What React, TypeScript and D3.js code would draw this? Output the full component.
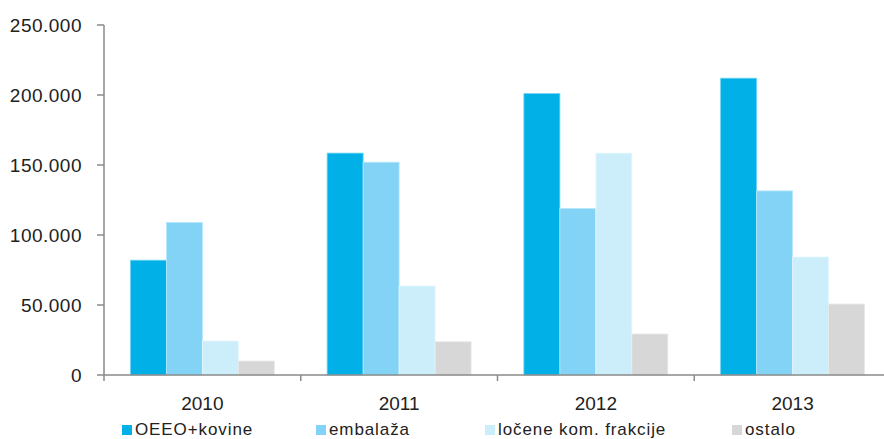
import React from "react";
import * as d3 from "d3";

const years = ["2010", "2011", "2012", "2013"];
const seriesNames = ["OEEO+kovine", "embalaža", "ločene kom. frakcije", "ostalo"];
const oeeo = [82000, 158500, 201000, 212000];
const embalaza = [109000, 152000, 119000, 131500];
const locene = [24300, 63600, 158500, 84300];
const ostalo = [10000, 23800, 29300, 50700];
const yTicks = [0, 50000, 100000, 150000, 200000, 250000];

const seriesValues = [oeeo, embalaza, locene, ostalo];
const colors = ["#00B0E6", "#82D3F6", "#CCEEFA", "#D7D7D7"];
const strokes = ["#6FD4F3", "#B8E8FB", "#E6F7FD", "#EAEAEA"];

const W = 884;
const H = 439;
const left = 104;
const top = 25;
const bottom = 375;
const right = 891;
const legendX = [122, 316, 485, 732];

const FONT = "'Liberation Sans', Arial, sans-serif";
const AXIS = "#8A8A8A";

export default function App() {
  const x = d3.scaleBand<string>().domain(years).range([left, right]).paddingInner(0).paddingOuter(0);
  const xs = d3
    .scaleBand<string>()
    .domain(seriesNames)
    .range([0, x.bandwidth()])
    .paddingInner(0)
    .paddingOuter(0.733);
  const y = d3.scaleLinear().domain([0, 250000]).range([bottom, top]);
  const fmt = (v: number) => (v === 0 ? "0" : d3.format(",")(v).replace(/,/g, "."));

  return (
    <svg
      width={W}
      height={H}
      style={{ position: "absolute", left: 0, top: 0, background: "#fff" }}
      fontFamily={FONT}
    >
      {seriesNames.map((s, si) =>
        years.map((yr, i) => {
          const v = seriesValues[si][i];
          const bx = (x(yr) as number) + (xs(s) as number);
          return (
            <rect
              key={s + yr}
              x={bx}
              y={y(v)}
              width={xs.bandwidth()}
              height={bottom - y(v)}
              fill={colors[si]}
              stroke={strokes[si]}
              strokeWidth={0.8}
            />
          );
        })
      )}
      {/* y axis */}
      <line x1={left} x2={left} y1={top} y2={bottom + 6} stroke={AXIS} strokeWidth={1.5} />
      {yTicks.map((t) => (
        <g key={t}>
          <line x1={left - 7} x2={left} y1={y(t)} y2={y(t)} stroke={AXIS} strokeWidth={1.5} />
          <text
            x={82}
            y={y(t)}
            dy="0.36em"
            textAnchor="end"
            fontSize={19}
            letterSpacing={0.5}
            fill="#222"
          >
            {fmt(t)}
          </text>
        </g>
      ))}
      {/* x axis */}
      <line x1={left} x2={right} y1={bottom} y2={bottom} stroke={AXIS} strokeWidth={1.5} />
      {years.map((yr) => (
        <g key={yr}>
          <line
            x1={(x(yr) as number) + x.bandwidth()}
            x2={(x(yr) as number) + x.bandwidth()}
            y1={bottom}
            y2={bottom + 6}
            stroke={AXIS}
            strokeWidth={1.5}
          />
          <text
            x={(x(yr) as number) + x.bandwidth() / 2}
            y={410}
            textAnchor="middle"
            fontSize={19}
            fill="#222"
          >
            {yr}
          </text>
        </g>
      ))}
      {/* legend */}
      {seriesNames.map((s, si) => (
        <g key={s}>
          <rect x={legendX[si]} y={425} width={10} height={10} fill={colors[si]} />
          <text x={legendX[si] + 13} y={435} fontSize={17} letterSpacing={0.9} fill="#222">
            {s}
          </text>
        </g>
      ))}
    </svg>
  );
}
